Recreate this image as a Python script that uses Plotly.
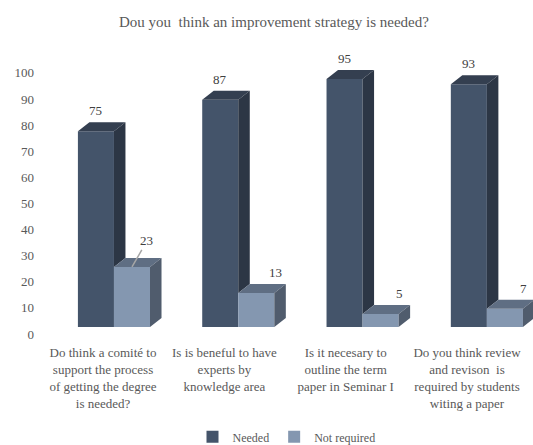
import plotly.graph_objects as go

# ---------------- data ----------------
categories = [
    "Do think a comité to<br>support the process<br>of getting the degree<br>is needed?",
    "Is is beneful to have<br>experts by<br>knowledge area",
    "Is it necesary to<br>outline the term<br>paper in Seminar I",
    "Do you think review<br>and revison  is<br>required by students<br>witing a paper",
]
needed = [75, 87, 95, 93]
not_required = [23, 13, 5, 7]
y_tick_values = [0, 10, 20, 30, 40, 50, 60, 70, 80, 90, 100]
series_names = ["Needed", "Not required"]
leader_line = [True, False, False, False]   # data label with leader line

# ---------------- style / geometry ----------------
FONT = "Liberation Serif, Times New Roman, DejaVu Serif, serif"
GREY = "#595959"
DARK = {"front": "#44546A", "top": "#343F50", "side": "#2C3645"}
LIGHT = {"front": "#8497B0", "top": "#5F6E83", "side": "#505C6D"}
BAR_W = 0.29          # width of each bar front (x units)
DEPTH_DX = 0.0925     # 3D depth offset along x (x units)
DEPTH_DY = 3.45       # 3D depth offset along y (value units)
Y_LABEL_SHIFT = -2.68   # perspective shift of value-axis labels
X_LABEL_SHIFT = -0.088  # perspective shift of category labels
X_LABEL_SCALE = 0.976

W, H = 533, 445
ML, MR, MT, MB = 40, 0, 50, 105

xpos = list(range(len(categories)))

fig = go.Figure()

# front faces (bars)
fig.add_trace(go.Bar(x=xpos, y=needed, width=BAR_W, offset=-BAR_W,
                     marker=dict(color=DARK["front"], line=dict(width=0)),
                     name=series_names[0], hoverinfo="skip"))
fig.add_trace(go.Bar(x=xpos, y=not_required, width=BAR_W, offset=0,
                     marker=dict(color=LIGHT["front"], line=dict(width=0)),
                     name=series_names[1], hoverinfo="skip"))


def poly_trace(xs, ys, color):
    return go.Scatter(x=xs, y=ys, mode="lines", fill="toself", fillcolor=color,
                      line=dict(width=0, color=color), showlegend=False,
                      hoverinfo="skip")


dtop_x, dtop_y, dside_x, dside_y = [], [], [], []
ltop_x, ltop_y, lside_x, lside_y = [], [], [], []
for i, (vd, vl) in enumerate(zip(needed, not_required)):
    xl, xm, xr = i - BAR_W, i, i + BAR_W
    # dark top face
    dtop_x += [xl, xl + DEPTH_DX, xm + DEPTH_DX, xm, xl, None]
    dtop_y += [vd, vd + DEPTH_DY, vd + DEPTH_DY, vd, vd, None]
    # dark side face (visible part above the light bar)
    dside_x += [xm, xm + DEPTH_DX, xm + DEPTH_DX, xm, xm, None]
    dside_y += [vl, vl + DEPTH_DY, vd + DEPTH_DY, vd, vl, None]
    # light top face
    ltop_x += [xm, xm + DEPTH_DX, xr + DEPTH_DX, xr, xm, None]
    ltop_y += [vl, vl + DEPTH_DY, vl + DEPTH_DY, vl, vl, None]
    # light side face
    lside_x += [xr, xr + DEPTH_DX, xr + DEPTH_DX, xr, xr, None]
    lside_y += [0, DEPTH_DY, vl + DEPTH_DY, vl, 0, None]

fig.add_trace(poly_trace(dtop_x, dtop_y, DARK["top"]))
fig.add_trace(poly_trace(dside_x, dside_y, DARK["side"]))
fig.add_trace(poly_trace(ltop_x, ltop_y, LIGHT["top"]))
fig.add_trace(poly_trace(lside_x, lside_y, LIGHT["side"]))

# data labels
label_font = dict(family=FONT, size=13, color="#404040")
annotations = []
for i, (vd, vl) in enumerate(zip(needed, not_required)):
    annotations.append(dict(x=i - BAR_W / 2, y=vd + DEPTH_DY, xref="x", yref="y",
                            text=str(vd), showarrow=False, yanchor="bottom",
                            yshift=2, font=label_font))
    if leader_line[i]:
        annotations.append(dict(x=i + BAR_W / 2, y=vl, xref="x", yref="y",
                                text=str(vl), showarrow=True, arrowhead=0,
                                arrowwidth=1.5, arrowcolor="#A6A6A6",
                                ax=15, ay=-26, font=label_font))
    else:
        annotations.append(dict(x=i + BAR_W / 2, y=vl + DEPTH_DY, xref="x", yref="y",
                                text=str(vl), showarrow=False, yanchor="bottom",
                                xshift=19, yshift=2, font=label_font))

fig.update_layout(
    width=W, height=H,
    margin=dict(l=ML, r=MR, t=MT, b=MB, pad=0, autoexpand=False),
    paper_bgcolor="white", plot_bgcolor="white",
    barmode="overlay",
    font=dict(family=FONT, size=13, color=GREY),
    title=dict(text="Dou you  think an improvement strategy is needed?",
               x=0.514, xanchor="center", y=1 - 22 / H, yanchor="middle",
               font=dict(family=FONT, size=15, color=GREY)),
    xaxis=dict(range=[-0.595, 3.371], showgrid=False, zeroline=False,
               showline=False, ticks="", automargin=False,
               ticklabelstandoff=3,
               tickvals=[X_LABEL_SHIFT + X_LABEL_SCALE * i for i in xpos],
               ticktext=categories,
               tickfont=dict(family=FONT, size=13, color=GREY)),
    yaxis=dict(range=[-4.98, 106.1], showgrid=False, zeroline=False,
               showline=False, ticks="", automargin=False,
               ticklabelstandoff=5,
               tickvals=[t + Y_LABEL_SHIFT for t in y_tick_values],
               ticktext=[str(t) for t in y_tick_values],
               tickfont=dict(family=FONT, size=13, color=GREY)),
    legend=dict(orientation="h", x=0.5, xanchor="center", y=-0.384,
                yanchor="bottom", font=dict(family=FONT, size=12, color=GREY),
                itemwidth=30, traceorder="normal",
                bgcolor="rgba(0,0,0,0)"),
    annotations=annotations,
    showlegend=True,
)

fig.write_html("out.html")
